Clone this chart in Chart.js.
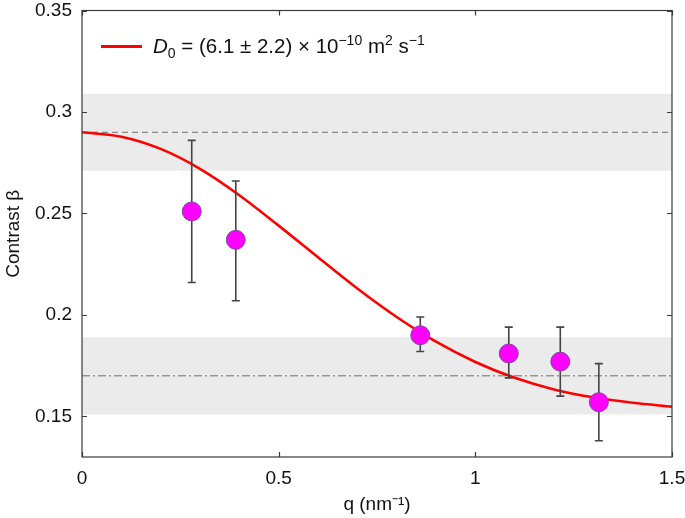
<!DOCTYPE html>
<html>
<head>
<meta charset="utf-8">
<script src="https://cdn.jsdelivr.net/npm/chart.js@4.4.0/dist/chart.umd.min.js"></script>
<style>
  html, body { margin: 0; padding: 0; background: #fff; }
  #wrap { position: relative; width: 685px; height: 518px; }
  #legend {
    position: absolute; left: 101px; top: 32px;
    font-family: "Liberation Sans", Arial, sans-serif; font-size: 20.5px; color: #111;
    display: flex; align-items: center; white-space: nowrap;
  }
  #legend .swatch { display: inline-block; width: 41px; height: 3px; background: #ff0000; margin-right: 11px; }
  #legend sup, #legend sub { font-size: 14px; }
  #legend sup { vertical-align: 8px; }
  #legend sub { vertical-align: -5px; }
</style>
</head>
<body>
<div id="wrap">
  <canvas id="chart" width="685" height="518"></canvas>
  <div id="legend"><span class="swatch"></span><span><i>D</i><sub>0</sub> = (6.1 ± 2.2) × 10<sup>−10</sup> m<sup>2</sup> s<sup>−1</sup></span></div>
</div>
<script>
// valores
const qPoints = [0.279, 0.391, 0.86, 1.085, 1.216, 1.314];
const betaPoints = [0.251, 0.237, 0.190, 0.181, 0.177, 0.157];
const betaErrLow = [0.216, 0.207, 0.182, 0.169, 0.160, 0.138];
const betaErrHigh = [0.286, 0.266, 0.199, 0.194, 0.194, 0.176];

// curva de ajuste (D0), lida ponto a ponto
const curveQ = [0, 0.1, 0.2, 0.3, 0.4, 0.5, 0.6, 0.7, 0.8, 0.9, 1.0, 1.1, 1.2, 1.3, 1.4, 1.5];
const curveBeta = [0.290, 0.2878, 0.2818, 0.2720, 0.2590, 0.2440, 0.2284, 0.2130, 0.1990,
                   0.1868, 0.1768, 0.1690, 0.1633, 0.1594, 0.1567, 0.1548];

// faixas cinzas e linhas de referência
const upperRef = 0.290, upperBand = [0.271, 0.309];
const lowerRef = 0.170, lowerBand = [0.151, 0.189];

const xTicks = [0, 0.5, 1, 1.5];
const yTicks = [0.15, 0.2, 0.25, 0.3, 0.35];
const xRange = [0, 1.5];
const yRange = [0.13, 0.35];

function flat(y) {
    return [{ x: xRange[0], y: y }, { x: xRange[1], y: y }];
}

// barras de erro desenhadas pelas escalas do gráfico
const errorBars = {
    id: 'errorBars',
    beforeDatasetDraw(chart, args) {
        if (args.index !== 0) return;
        const ctx = chart.ctx, xs = chart.scales.x, ys = chart.scales.y;
        ctx.save();
        ctx.strokeStyle = '#444';
        ctx.lineWidth = 1.6;
        qPoints.forEach((q, i) => {
            const px = xs.getPixelForValue(q);
            const lo = ys.getPixelForValue(betaErrLow[i]);
            const hi = ys.getPixelForValue(betaErrHigh[i]);
            ctx.beginPath();
            ctx.moveTo(px, lo); ctx.lineTo(px, hi);
            ctx.moveTo(px - 4, lo); ctx.lineTo(px + 4, lo);
            ctx.moveTo(px - 4, hi); ctx.lineTo(px + 4, hi);
            ctx.stroke();
        });
        ctx.restore();
    }
};

// moldura com marcas para dentro nos quatro lados
const frame = {
    id: 'frame',
    afterDraw(chart) {
        const ctx = chart.ctx, a = chart.chartArea;
        const xs = chart.scales.x, ys = chart.scales.y;
        ctx.save();
        ctx.strokeStyle = '#3a3a3a';
        ctx.lineWidth = 1.2;
        ctx.strokeRect(a.left, a.top, a.right - a.left, a.bottom - a.top);
        ctx.beginPath();
        xTicks.forEach(v => {
            const px = Math.round(xs.getPixelForValue(v)) + 0.5;
            ctx.moveTo(px, a.bottom); ctx.lineTo(px, a.bottom - 5);
            ctx.moveTo(px, a.top); ctx.lineTo(px, a.top + 5);
        });
        yTicks.forEach(v => {
            const py = Math.round(ys.getPixelForValue(v)) + 0.5;
            ctx.moveTo(a.left, py); ctx.lineTo(a.left + 5, py);
            ctx.moveTo(a.right, py); ctx.lineTo(a.right - 5, py);
        });
        ctx.stroke();
        ctx.restore();
    }
};

const tickFont = { family: '"Liberation Sans", Arial, sans-serif', size: 19, lineHeight: 0.85 };
const titleFont = { family: '"Liberation Sans", Arial, sans-serif', size: 19 };

new Chart(document.getElementById('chart').getContext('2d'), {
    type: 'scatter',
    data: {
        datasets: [
            {
                label: 'Dados',
                data: qPoints.map((q, i) => ({ x: q, y: betaPoints[i] })),
                backgroundColor: '#ff00ff',
                borderColor: '#7b4a9c',
                borderWidth: 1,
                pointRadius: 9.5
            },
            {
                label: 'D0 fit',
                data: curveQ.map((q, i) => ({ x: q, y: curveBeta[i] })),
                showLine: true,
                borderColor: '#ff0000',
                borderWidth: 2.6,
                pointRadius: 0,
                cubicInterpolationMode: 'monotone',
                fill: false
            },
            {
                label: 'ref1',
                data: flat(upperRef),
                showLine: true, borderColor: '#6e6e6e', borderWidth: 1,
                borderDash: [6, 4], pointRadius: 0, fill: false
            },
            {
                label: 'ref2',
                data: flat(lowerRef),
                showLine: true, borderColor: '#6e6e6e', borderWidth: 1,
                borderDash: [8, 3, 2, 3], pointRadius: 0, fill: false
            },
            {
                label: 'band1top',
                data: flat(upperBand[1]),
                showLine: true, borderWidth: 0, pointRadius: 0,
                backgroundColor: '#ebebeb', fill: '+1'
            },
            {
                label: 'band1bottom',
                data: flat(upperBand[0]),
                showLine: true, borderWidth: 0, pointRadius: 0, fill: false
            },
            {
                label: 'band2top',
                data: flat(lowerBand[1]),
                showLine: true, borderWidth: 0, pointRadius: 0,
                backgroundColor: '#ebebeb', fill: '+1'
            },
            {
                label: 'band2bottom',
                data: flat(lowerBand[0]),
                showLine: true, borderWidth: 0, pointRadius: 0, fill: false
            }
        ]
    },
    options: {
        responsive: false,
        animation: false,
        layout: { padding: 0 },
        plugins: {
            legend: { display: false },
            tooltip: { enabled: false }
        },
        scales: {
            x: {
                type: 'linear',
                min: xRange[0], max: xRange[1],
                afterBuildTicks: s => { s.ticks = xTicks.map(v => ({ value: v })); },
                afterFit: s => { s.height = 61; s.paddingLeft = 0; s.paddingRight = 13; },
                grid: { display: false, drawTicks: false },
                border: { display: false },
                ticks: { font: tickFont, color: '#111', padding: 14, maxRotation: 0,
                         callback: v => String(v) },
                title: { display: true, text: 'q (nm⁻¹)', font: titleFont, color: '#111',
                         padding: { top: 0, bottom: 2 } }
            },
            y: {
                min: yRange[0], max: yRange[1],
                afterBuildTicks: s => { s.ticks = yTicks.map(v => ({ value: v })); },
                afterFit: s => { s.width = 82; s.paddingTop = 8; s.paddingBottom = 0; },
                grid: { display: false, drawTicks: false },
                border: { display: false },
                ticks: { font: tickFont, color: '#111', padding: 10,
                         callback: v => String(v) },
                title: { display: true, text: 'Contrast β', font: titleFont, color: '#111',
                         padding: { top: 2, bottom: 0 } }
            }
        }
    },
    plugins: [errorBars, frame]
});
</script>
</body>
</html>
